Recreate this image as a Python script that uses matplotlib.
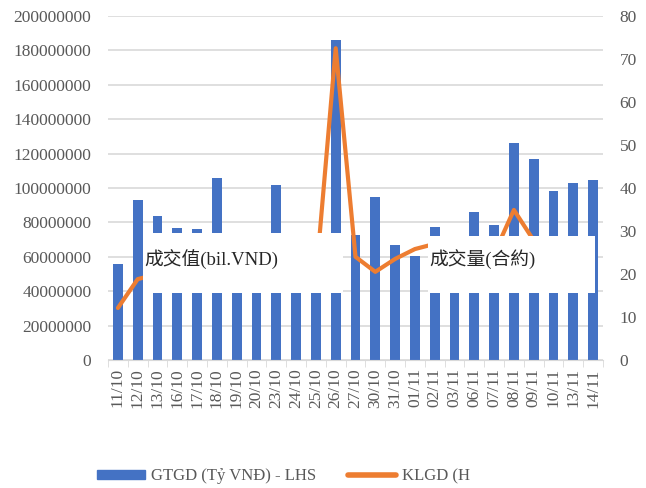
import numpy as np
import matplotlib.pyplot as plt
from matplotlib.patches import Rectangle, Patch
from matplotlib.lines import Line2D

# Dữ liệu
ngay = ['11/10', '12/10', '13/10', '16/10', '17/10', '18/10', '19/10', '20/10',
        '23/10', '24/10', '25/10', '26/10', '27/10', '30/10', '31/10', '01/11',
        '02/11', '03/11', '06/11', '07/11', '08/11', '09/11', '10/11', '13/11', '14/11']
gtgd = [56e6, 93e6, 84e6, 77e6, 76e6, 106e6, 65e6, 55e6,
        101.5e6, 60e6, 70e6, 186e6, 72.5e6, 95e6, 67e6, 60.5e6,
        77.5e6, 62e6, 86e6, 78.5e6, 126e6, 117e6, 98e6, 103e6, 104.5e6]
klgd = [12.1, 18.8, 20, 18, 16.2, 22, 20, 19,
        24, 20, 19, 72.5, 24, 20.5, 23.5, 25.8,
        27, 22, 25, 24.7, 34.9, 27.8, 22, 24, 23]

grey = '#595959'
serif = ['Liberation Serif', 'Noto Sans CJK TC']
plt.rcParams['font.family'] = serif

W, H = 646, 488
fig = plt.figure(figsize=(W / 100, H / 100), dpi=100)
ax = fig.add_axes([108 / W, 1 - 360 / H, 495 / W, 344 / H])
ax2 = ax.twinx()

x = np.arange(len(ngay))
ax.bar(x, gtgd, width=0.5, color='#4472C4', zorder=2)
ax2.plot(x, klgd, color='#ED7D31', linewidth=3, solid_capstyle='round', zorder=3)

ax.set_xlim(-0.5, len(ngay) - 0.5)
ax.set_ylim(0, 200e6)
ax2.set_ylim(0, 80)
ax.set_yticks(np.arange(0, 200e6 + 1, 20e6))
ax.set_yticklabels([f'{int(v)}' for v in np.arange(0, 200e6 + 1, 20e6)])
ax2.set_yticks(np.arange(0, 81, 10))

ax.grid(axis='y', color='#d9d9d9', linewidth=1.2, zorder=0)
ax.set_axisbelow(True)
for a in (ax, ax2):
    for s in ['top', 'left', 'right']:
        a.spines[s].set_visible(False)
    a.spines['bottom'].set_color('#d9d9d9')
    a.tick_params(axis='y', length=0, labelsize=12.5, labelcolor=grey)
ax2.spines['bottom'].set_visible(False)

ax.set_xticks(x)
ax.set_xticklabels(ngay, rotation=90, fontsize=12.5, color=grey)
ax.set_xticks(np.arange(-0.5, len(ngay), 1), minor=True)
ax.tick_params(axis='x', which='major', length=0, pad=6)
ax.tick_params(axis='x', which='minor', length=5, color='#d9d9d9')
ax.tick_params(axis='y', pad=12)
ax2.tick_params(axis='y', pad=12)

# Hộp chữ che lên biểu đồ
for (x0, y0, x1, y1, txt) in [(143, 233, 343, 293, '成交值(bil.VND)'),
                              (428, 236, 595, 293, '成交量(合約)')]:
    fig.add_artist(Rectangle((x0 / W, 1 - y1 / H), (x1 - x0) / W, (y1 - y0) / H,
                             transform=fig.transFigure, facecolor='white',
                             edgecolor='none', zorder=5))
    fig.text((x0 + 1) / W, 1 - 259 / H, txt, fontsize=13.5, color='#262626',
             va='center', ha='left', zorder=6, family=serif)

handles = [Patch(color='#4472C4'), Line2D([], [], color='#ED7D31', linewidth=4,
                                          solid_capstyle='round')]
fig.legend(handles, ['GTGD (Tỷ VNĐ) - LHS', 'KLGD (H'], loc='center left',
           bbox_to_anchor=(82 / W, 1 - 476 / H), ncol=2, frameon=False,
           fontsize=12, labelcolor=grey, handlelength=2.9, handleheight=0.45,
           columnspacing=1.9, handletextpad=0.35)

fig.savefig('out.png', dpi=100)
